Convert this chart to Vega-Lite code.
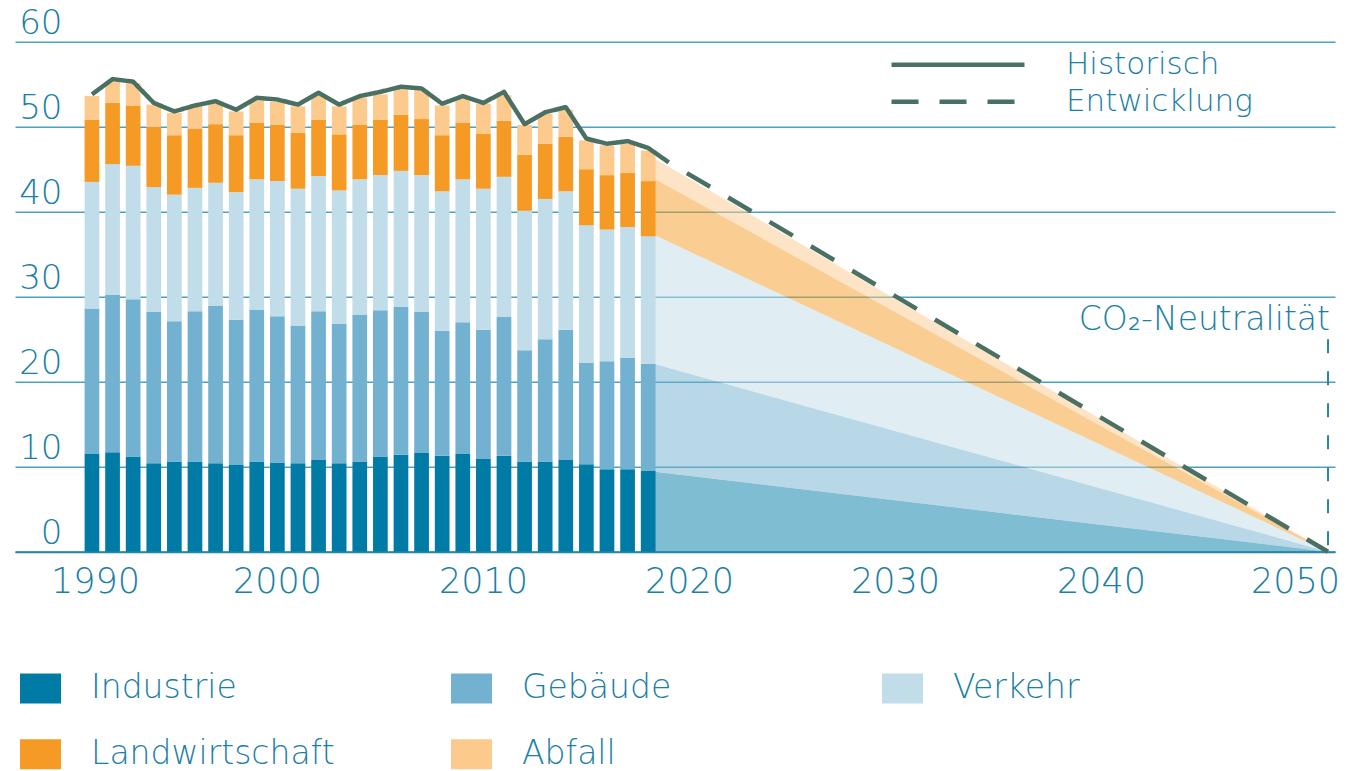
{
  "$schema": "https://vega.github.io/schema/vega-lite/v6.json",
  "width": 1320,
  "height": 510,
  "autosize": {"type": "none"},
  "padding": {"left": 15, "top": 41.7, "right": 15, "bottom": 219.3},
  "background": "white",
  "config": {
    "view": {"stroke": null},
    "font": "DejaVu Sans",
    "axis": {"labelFont": "DejaVu Sans", "labelColor": "#1b80a6", "labelFontWeight": 300, "title": null},
    "legend": {"labelFont": "DejaVu Sans", "labelColor": "#1b80a6", "labelFontWeight": 300}
  },
  "resolve": {"scale": {"color": "independent"}},
  "datasets": {
    "balken": [
      {"jahr": 1990, "Industrie": 11.5, "Gebäude": 17.1, "Verkehr": 14.9, "Landwirtschaft": 7.3, "Abfall": 2.8},
      {"jahr": 1991, "Industrie": 11.7, "Gebäude": 18.5, "Verkehr": 15.4, "Landwirtschaft": 7.2, "Abfall": 2.5},
      {"jahr": 1992, "Industrie": 11.2, "Gebäude": 18.5, "Verkehr": 15.7, "Landwirtschaft": 7.1, "Abfall": 2.6},
      {"jahr": 1993, "Industrie": 10.4, "Gebäude": 17.8, "Verkehr": 14.7, "Landwirtschaft": 7.1, "Abfall": 2.6},
      {"jahr": 1994, "Industrie": 10.6, "Gebäude": 16.5, "Verkehr": 14.9, "Landwirtschaft": 7.0, "Abfall": 2.6},
      {"jahr": 1995, "Industrie": 10.6, "Gebäude": 17.7, "Verkehr": 14.5, "Landwirtschaft": 7.0, "Abfall": 2.6},
      {"jahr": 1996, "Industrie": 10.4, "Gebäude": 18.5, "Verkehr": 14.5, "Landwirtschaft": 6.9, "Abfall": 2.5},
      {"jahr": 1997, "Industrie": 10.2, "Gebäude": 17.1, "Verkehr": 15.0, "Landwirtschaft": 6.7, "Abfall": 2.8},
      {"jahr": 1998, "Industrie": 10.6, "Gebäude": 17.9, "Verkehr": 15.3, "Landwirtschaft": 6.7, "Abfall": 2.6},
      {"jahr": 1999, "Industrie": 10.5, "Gebäude": 17.2, "Verkehr": 15.9, "Landwirtschaft": 6.6, "Abfall": 2.7},
      {"jahr": 2000, "Industrie": 10.4, "Gebäude": 16.2, "Verkehr": 16.1, "Landwirtschaft": 6.6, "Abfall": 3.1},
      {"jahr": 2001, "Industrie": 10.8, "Gebäude": 17.5, "Verkehr": 15.9, "Landwirtschaft": 6.6, "Abfall": 2.9},
      {"jahr": 2002, "Industrie": 10.4, "Gebäude": 16.4, "Verkehr": 15.7, "Landwirtschaft": 6.6, "Abfall": 3.3},
      {"jahr": 2003, "Industrie": 10.6, "Gebäude": 17.3, "Verkehr": 15.9, "Landwirtschaft": 6.4, "Abfall": 3.2},
      {"jahr": 2004, "Industrie": 11.2, "Gebäude": 17.2, "Verkehr": 15.9, "Landwirtschaft": 6.5, "Abfall": 3.0},
      {"jahr": 2005, "Industrie": 11.4, "Gebäude": 17.4, "Verkehr": 16.0, "Landwirtschaft": 6.6, "Abfall": 3.0},
      {"jahr": 2006, "Industrie": 11.6, "Gebäude": 16.6, "Verkehr": 16.1, "Landwirtschaft": 6.6, "Abfall": 3.4},
      {"jahr": 2007, "Industrie": 11.3, "Gebäude": 14.7, "Verkehr": 16.4, "Landwirtschaft": 6.6, "Abfall": 3.5},
      {"jahr": 2008, "Industrie": 11.5, "Gebäude": 15.5, "Verkehr": 16.8, "Landwirtschaft": 6.7, "Abfall": 3.0},
      {"jahr": 2009, "Industrie": 10.9, "Gebäude": 15.2, "Verkehr": 16.6, "Landwirtschaft": 6.5, "Abfall": 3.5},
      {"jahr": 2010, "Industrie": 11.3, "Gebäude": 16.3, "Verkehr": 16.5, "Landwirtschaft": 6.6, "Abfall": 3.0},
      {"jahr": 2011, "Industrie": 10.6, "Gebäude": 13.1, "Verkehr": 16.4, "Landwirtschaft": 6.6, "Abfall": 3.5},
      {"jahr": 2012, "Industrie": 10.6, "Gebäude": 14.4, "Verkehr": 16.5, "Landwirtschaft": 6.5, "Abfall": 3.5},
      {"jahr": 2013, "Industrie": 10.8, "Gebäude": 15.3, "Verkehr": 16.3, "Landwirtschaft": 6.4, "Abfall": 3.2},
      {"jahr": 2014, "Industrie": 10.3, "Gebäude": 11.9, "Verkehr": 16.2, "Landwirtschaft": 6.6, "Abfall": 3.4},
      {"jahr": 2015, "Industrie": 9.7, "Gebäude": 12.7, "Verkehr": 15.5, "Landwirtschaft": 6.4, "Abfall": 3.5},
      {"jahr": 2016, "Industrie": 9.7, "Gebäude": 13.1, "Verkehr": 15.4, "Landwirtschaft": 6.4, "Abfall": 3.4},
      {"jahr": 2017, "Industrie": 9.5, "Gebäude": 12.6, "Verkehr": 15.0, "Landwirtschaft": 6.5, "Abfall": 3.6}
    ],
    "prognose": [
      {"jahr": 2017, "Industrie": 9.5, "Gebäude": 12.8, "Verkehr": 15.3, "Landwirtschaft": 6.7, "Abfall": 2.4},
      {"jahr": 2050, "Industrie": 0, "Gebäude": 0, "Verkehr": 0, "Landwirtschaft": 0, "Abfall": 0}
    ],
    "linien": [
      {"jahr": 1990, "wert": 53.8, "typ": "Historisch"},
      {"jahr": 1991, "wert": 55.6, "typ": "Historisch"},
      {"jahr": 1992, "wert": 55.3, "typ": "Historisch"},
      {"jahr": 1993, "wert": 52.8, "typ": "Historisch"},
      {"jahr": 1994, "wert": 51.8, "typ": "Historisch"},
      {"jahr": 1995, "wert": 52.5, "typ": "Historisch"},
      {"jahr": 1996, "wert": 53.0, "typ": "Historisch"},
      {"jahr": 1997, "wert": 52.0, "typ": "Historisch"},
      {"jahr": 1998, "wert": 53.4, "typ": "Historisch"},
      {"jahr": 1999, "wert": 53.2, "typ": "Historisch"},
      {"jahr": 2000, "wert": 52.6, "typ": "Historisch"},
      {"jahr": 2001, "wert": 54.0, "typ": "Historisch"},
      {"jahr": 2002, "wert": 52.6, "typ": "Historisch"},
      {"jahr": 2003, "wert": 53.6, "typ": "Historisch"},
      {"jahr": 2004, "wert": 54.1, "typ": "Historisch"},
      {"jahr": 2005, "wert": 54.7, "typ": "Historisch"},
      {"jahr": 2006, "wert": 54.5, "typ": "Historisch"},
      {"jahr": 2007, "wert": 52.7, "typ": "Historisch"},
      {"jahr": 2008, "wert": 53.6, "typ": "Historisch"},
      {"jahr": 2009, "wert": 52.8, "typ": "Historisch"},
      {"jahr": 2010, "wert": 54.1, "typ": "Historisch"},
      {"jahr": 2011, "wert": 50.3, "typ": "Historisch"},
      {"jahr": 2012, "wert": 51.7, "typ": "Historisch"},
      {"jahr": 2013, "wert": 52.3, "typ": "Historisch"},
      {"jahr": 2014, "wert": 48.6, "typ": "Historisch"},
      {"jahr": 2015, "wert": 48.0, "typ": "Historisch"},
      {"jahr": 2016, "wert": 48.3, "typ": "Historisch"},
      {"jahr": 2017, "wert": 47.5, "typ": "Historisch"},
      {"jahr": 2018, "wert": 45.8, "typ": "Historisch"},
      {"jahr": 2018, "wert": 45.8, "typ": "Entwicklung"},
      {"jahr": 2050, "wert": 0, "typ": "Entwicklung"}
    ],
    "ziel": [
      {"jahr": 2050, "von": 0, "bis": 25, "label": "CO₂-Neutralität"}
    ]
  },
  "layer": [
    {
      "data": {"name": "prognose"},
      "transform": [
        {"fold": ["Industrie", "Gebäude", "Verkehr", "Landwirtschaft", "Abfall"], "as": ["sektor", "wert"]},
        {"calculate": "indexof(['Industrie','Gebäude','Verkehr','Landwirtschaft','Abfall'], datum.sektor)", "as": "rang"}
      ],
      "mark": {"type": "area", "opacity": 0.5},
      "encoding": {
        "x": {
          "field": "jahr", "type": "quantitative",
          "scale": {"domain": [1986.507, 2050.096], "nice": false, "zero": false},
          "axis": {
            "values": [1990, 2000, 2010, 2020, 2030, 2040, 2050],
            "format": "d",
            "grid": false,
            "ticks": false,
            "tickSize": 0,
            "domainColor": "#2a86a8",
            "domainWidth": 2,
            "labelFontSize": 35,
            "labelBaseline": "alphabetic",
            "labelPadding": 41,
            "labelFlush": false,
            "labelOverlap": false,
            "labelOffset": {"expr": "datum.value == 1990 ? 3 : datum.value == 2050 ? -33 : -21"}
          }
        },
        "y": {
          "field": "wert", "type": "quantitative", "stack": "zero",
          "scale": {"domain": [0, 60], "nice": false},
          "axis": {
            "values": [0, 10, 20, 30, 40, 50, 60],
            "domain": false,
            "ticks": false,
            "tickSize": 0,
            "grid": true,
            "gridColor": "#4ea1c0",
            "gridWidth": 1.5,
            "labelFontSize": 34,
            "labelAlign": "right",
            "labelBaseline": "alphabetic",
            "labelPadding": -47,
            "labelOffset": -8.5
          }
        },
        "color": {
          "field": "sektor", "type": "nominal",
          "scale": {
            "domain": ["Industrie", "Gebäude", "Verkehr", "Landwirtschaft", "Abfall"],
            "range": ["#007ba5", "#72b1d0", "#c1ddea", "#f59b25", "#fdca8d"]
          },
          "legend": null
        },
        "order": {"field": "rang", "type": "quantitative"}
      }
    },
    {
      "data": {"name": "balken"},
      "transform": [
        {"fold": ["Industrie", "Gebäude", "Verkehr", "Landwirtschaft", "Abfall"], "as": ["sektor", "wert"]},
        {"calculate": "indexof(['Industrie','Gebäude','Verkehr','Landwirtschaft','Abfall'], datum.sektor)", "as": "rang"}
      ],
      "mark": {"type": "bar", "size": 14.7},
      "encoding": {
        "x": {"field": "jahr", "type": "quantitative"},
        "y": {"field": "wert", "type": "quantitative", "stack": "zero"},
        "color": {
          "field": "sektor", "type": "nominal",
          "scale": {
            "domain": ["Industrie", "Gebäude", "Verkehr", "Landwirtschaft", "Abfall"],
            "range": ["#007ba5", "#72b1d0", "#c1ddea", "#f59b25", "#fdca8d"]
          },
          "legend": {
            "title": null,
            "orient": "none",
            "legendX": 5,
            "legendY": 626,
            "direction": "horizontal",
            "columns": 3,
            "gridAlign": "all",
            "symbolType": "M-1,-0.73H1V0.73H-1Z",
            "symbolSize": 1681,
            "symbolStrokeWidth": 0,
            "symbolOpacity": 1,
            "labelFontSize": 33,
            "labelOffset": 30,
            "labelLimit": 500,
            "columnPadding": 116,
            "rowPadding": 28
          }
        },
        "order": {"field": "rang", "type": "quantitative"}
      }
    },
    {
      "data": {"name": "linien"},
      "mark": {"type": "line", "color": "#4a7063", "strokeWidth": 4.5, "strokeJoin": "round", "strokeDashOffset": 27},
      "encoding": {
        "x": {"field": "jahr", "type": "quantitative"},
        "y": {"field": "wert", "type": "quantitative"},
        "strokeDash": {
          "field": "typ", "type": "nominal",
          "scale": {"domain": ["Historisch", "Entwicklung"], "range": [[1, 0], [27, 21]]},
          "legend": {
            "title": null,
            "orient": "none",
            "legendX": 924,
            "legendY": 4,
            "direction": "vertical",
            "symbolType": "M-4,0H4",
            "symbolSize": 1105,
            "symbolStrokeWidth": 4.5,
            "symbolStrokeColor": "#4a7063",
            "symbolFillColor": "transparent",
            "labelFontSize": 31,
            "labelOffset": 89,
            "labelLimit": 500,
            "rowPadding": 3
          }
        }
      }
    },
    {
      "data": {"name": "ziel"},
      "mark": {"type": "rule", "color": "#2a86a8", "strokeWidth": 2, "strokeDash": [14, 18]},
      "encoding": {
        "x": {"field": "jahr", "type": "quantitative"},
        "y": {"field": "bis", "type": "quantitative"},
        "y2": {"field": "von"}
      }
    },
    {
      "data": {"name": "ziel"},
      "mark": {"type": "text", "align": "right", "baseline": "alphabetic", "dy": -9, "dx": 2, "fontSize": 33, "fontWeight": 300, "color": "#1b80a6", "font": "DejaVu Sans"},
      "encoding": {
        "x": {"field": "jahr", "type": "quantitative"},
        "y": {"field": "bis", "type": "quantitative"},
        "text": {"field": "label"}
      }
    }
  ]
}
